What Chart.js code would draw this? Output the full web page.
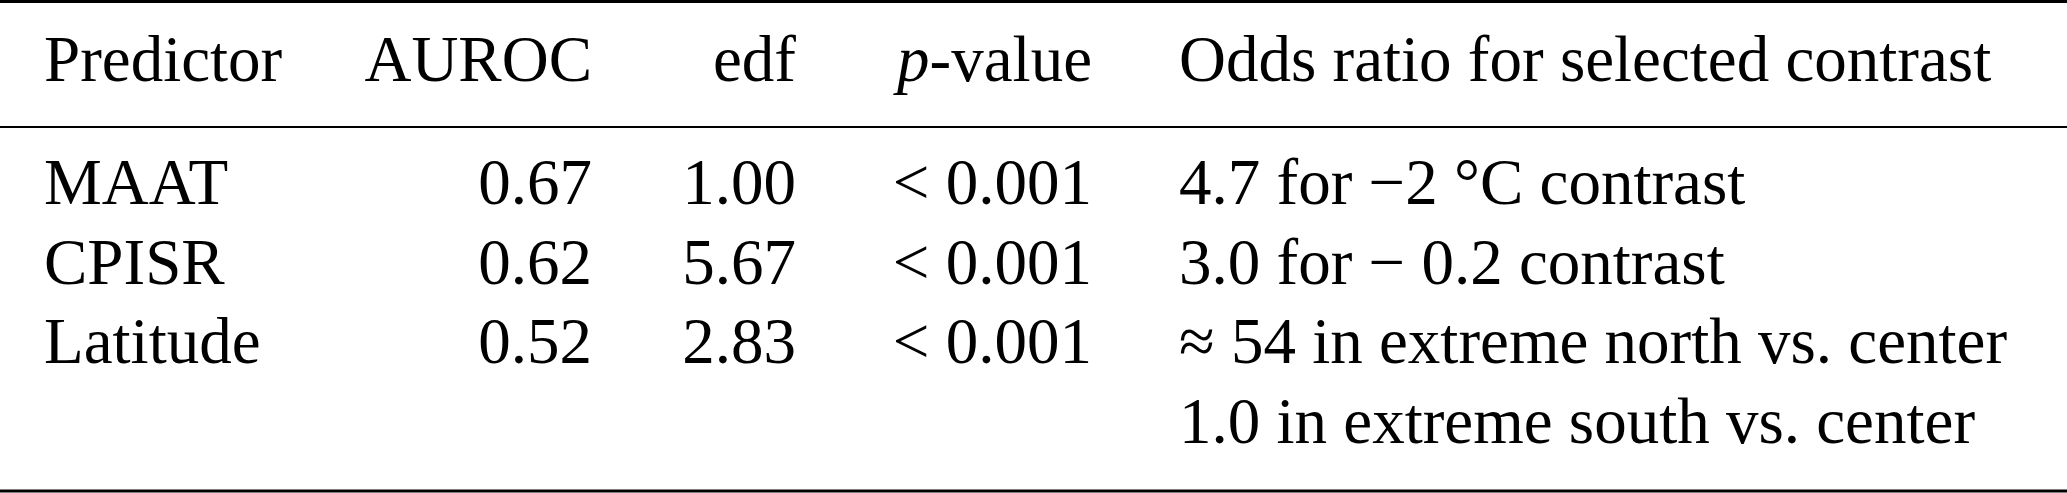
<!DOCTYPE html>
<html><head><meta charset="utf-8">
<script src="https://cdn.jsdelivr.net/npm/chart.js@4.4.1/dist/chart.umd.min.js"></script>
<style>html,body{margin:0;padding:0;background:#fff;overflow:hidden}#wrap{width:2067px;height:493px;position:relative}
#probe{position:absolute;left:-9999px;top:0;font-family:"Liberation Serif";font-size:65px}#probe i{font-style:italic}</style>
</head><body><div id="wrap"><canvas id="c"></canvas></div><div id="probe">Predictor <i>p</i> −≈°</div>
<script>
// ---- data ----
const headers = ['Predictor', 'AUROC', 'edf', 'p-value', 'Odds ratio for selected contrast'];
const predictors = ['MAAT', 'CPISR', 'Latitude'];
const auroc = [0.67, 0.62, 0.52];
const edf = [1.00, 5.67, 2.83];
const pValues = ['< 0.001', '< 0.001', '< 0.001'];
const oddsRatios = [
  ['4.7 for \u22122 \u00B0C contrast'],
  ['3.0 for \u2212 0.2 contrast'],
  ['\u2248 54 in extreme north vs. center', '1.0 in extreme south vs. center']
];

// ---- layout (positions / styles only) ----
const FONT = '"Liberation Serif", "Times New Roman", Times, serif';
const SIZE = 65;
const columns = [
  {x: 44, align: 'left'},
  {x: 592, align: 'right'},
  {x: 796, align: 'right'},
  {x: 1092, align: 'right'},
  {x: 1179, align: 'left'}
];
const headerLevel = -1.545;
const rules = [{level: -2.54, width: 3}, {level: -0.965, width: 2}, {level: 3.60, width: 3}];

function drawRuns(ctx, runs, x, y, align) {
  let total = 0;
  runs.forEach(r => { ctx.font = (r.italic ? 'italic ' : '') + SIZE + 'px ' + FONT; r.w = ctx.measureText(r.t).width; total += r.w; });
  let cx = align === 'right' ? x - total : x;
  runs.forEach(r => {
    ctx.font = (r.italic ? 'italic ' : '') + SIZE + 'px ' + FONT;
    ctx.textAlign = 'left';
    ctx.fillText(r.t, cx, y);
    cx += r.w;
  });
}

const tablePlugin = {
  id: 'tablePlugin',
  afterDraw(chart) {
    const ctx = chart.ctx, xs = chart.scales.x, ys = chart.scales.y;
    ctx.save();
    ctx.fillStyle = '#000';
    ctx.strokeStyle = '#000';
    ctx.textBaseline = 'alphabetic';
    rules.forEach(r => {
      const y = ys.getPixelForValue(r.level);
      ctx.lineWidth = r.width;
      ctx.beginPath();
      ctx.moveTo(xs.getPixelForValue(xs.min), y);
      ctx.lineTo(xs.getPixelForValue(xs.max), y);
      ctx.stroke();
    });
    const hy = ys.getPixelForValue(headerLevel);
    headers.forEach((h, i) => {
      let runs = [{t: h}];
      if (h.startsWith('p-')) runs = [{t: 'p', italic: true}, {t: h.slice(1)}];
      drawRuns(ctx, runs, xs.getPixelForValue(columns[i].x), hy, columns[i].align);
    });
    let line = 0;
    predictors.forEach((p, i) => {
      const y = ys.getPixelForValue(line);
      const cells = [p, auroc[i].toFixed(2), edf[i].toFixed(2), pValues[i]];
      cells.forEach((c, j) => drawRuns(ctx, [{t: c}], xs.getPixelForValue(columns[j].x), y, columns[j].align));
      oddsRatios[i].forEach((o, k) => {
        drawRuns(ctx, [{t: o}], xs.getPixelForValue(columns[4].x), ys.getPixelForValue(line + k), columns[4].align);
      });
      line += oddsRatios[i].length;
    });
    ctx.restore();
  }
};

function build() {
  new Chart(document.getElementById('c'), {
    type: 'scatter',
    data: {datasets: [{data: [], pointRadius: 0}]},
    options: {
      responsive: true,
      maintainAspectRatio: false,
      animation: false,
      devicePixelRatio: 1,
      layout: {padding: 0},
      plugins: {legend: {display: false}, tooltip: {enabled: false}},
      scales: {
        x: {type: 'linear', display: false, min: 0, max: 2067},
        y: {type: 'linear', display: false, reverse: true, min: -2.56, max: 3.626}
      }
    },
    plugins: [tablePlugin]
  });
}
Promise.all([
  document.fonts.load('65px "Liberation Serif"'),
  document.fonts.load('italic 65px "Liberation Serif"')
]).then(build, build);
</script>
</body></html>
